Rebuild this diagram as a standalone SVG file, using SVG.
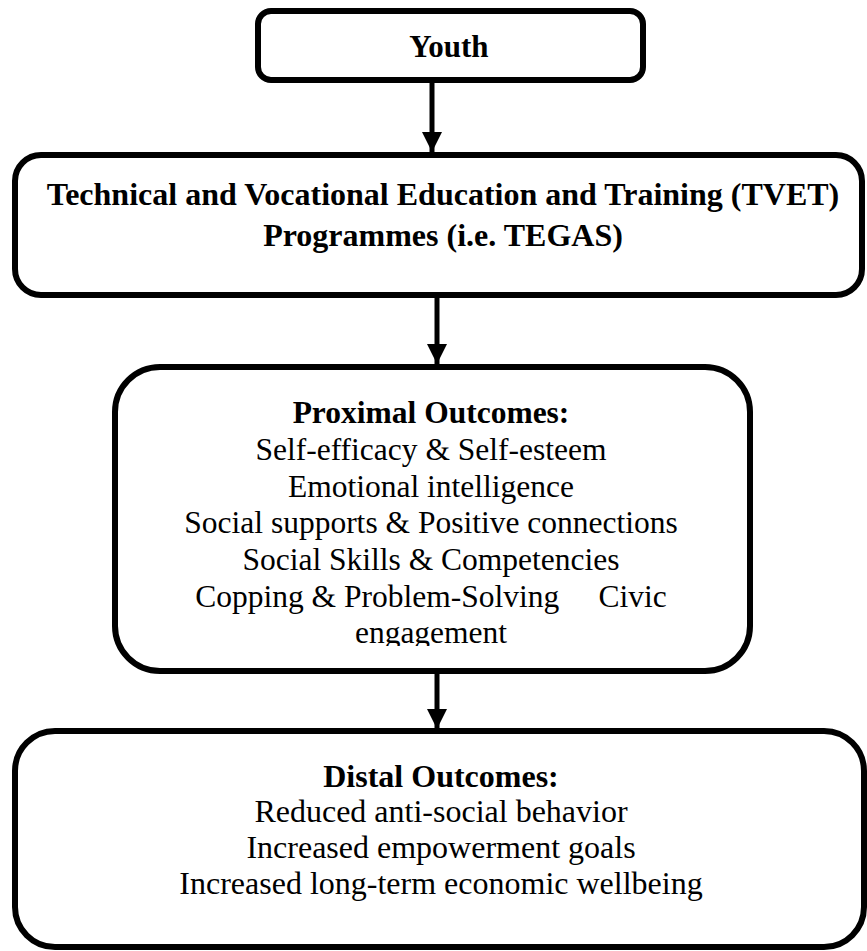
<svg xmlns="http://www.w3.org/2000/svg" width="867" height="951" viewBox="0 0 867 951">
<style>
.box{fill:#fff;stroke:#000;stroke-width:6}
.t{font-family:"Liberation Serif","Times New Roman",serif;fill:#000;text-anchor:middle}
.b{font-weight:bold}
.conn{stroke:#000;stroke-width:5;fill:none}
</style>
<defs>
<marker id="ah" markerWidth="4" markerHeight="4" viewBox="0 0 4 4" refX="4" refY="2" orient="auto" markerUnits="strokeWidth">
<path d="M0,0 L4,2 L0,4 Z" fill="#000"/>
</marker>
<clipPath id="pc"><rect x="0" y="380" width="867" height="266"/></clipPath>
</defs>
<rect width="867" height="951" fill="#fff"/>
<g id="connectors">
<line class="conn" x1="432" y1="80" x2="432" y2="152" marker-end="url(#ah)"/>
<line class="conn" x1="437" y1="295" x2="437" y2="364" marker-end="url(#ah)"/>
<line class="conn" x1="437" y1="671" x2="437" y2="729" marker-end="url(#ah)"/>
</g>
<g id="youth">
<rect class="box" x="258" y="11" width="385" height="69" rx="13"/>
<text class="t b" x="449" y="57" font-size="31">Youth</text>
</g>
<g id="tvet">
<rect class="box" x="15" y="155" width="847" height="140" rx="26"/>
<text class="t b" font-size="32"><tspan x="443" y="205">Technical and Vocational Education and Training (TVET)</tspan><tspan x="443" y="246">Programmes (i.e. TEGAS)</tspan></text>
</g>
<g id="proximal">
<rect class="box" x="115" y="367" width="635" height="304" rx="45"/>
<g clip-path="url(#pc)">
<text class="t" font-size="31.5" style="white-space:pre"><tspan class="b" x="431" y="423">Proximal Outcomes:</tspan><tspan x="431" y="460">Self-efficacy &amp; Self-esteem</tspan><tspan x="431" y="497">Emotional intelligence</tspan><tspan x="431" y="533">Social supports &amp; Positive connections</tspan><tspan x="431" y="570">Social Skills &amp; Competencies</tspan><tspan x="431" y="607">Copping &amp; Problem-Solving     Civic</tspan><tspan x="431" y="643">engagement</tspan></text>
</g>
</g>
<g id="distal">
<rect class="box" x="15" y="731" width="849" height="216" rx="40"/>
<text class="t" font-size="32"><tspan class="b" x="441" y="787">Distal Outcomes:</tspan><tspan x="441" y="822">Reduced anti-social behavior</tspan><tspan x="441" y="858">Increased empowerment goals</tspan><tspan x="441" y="894">Increased long-term economic wellbeing</tspan></text>
</g>
</svg>
